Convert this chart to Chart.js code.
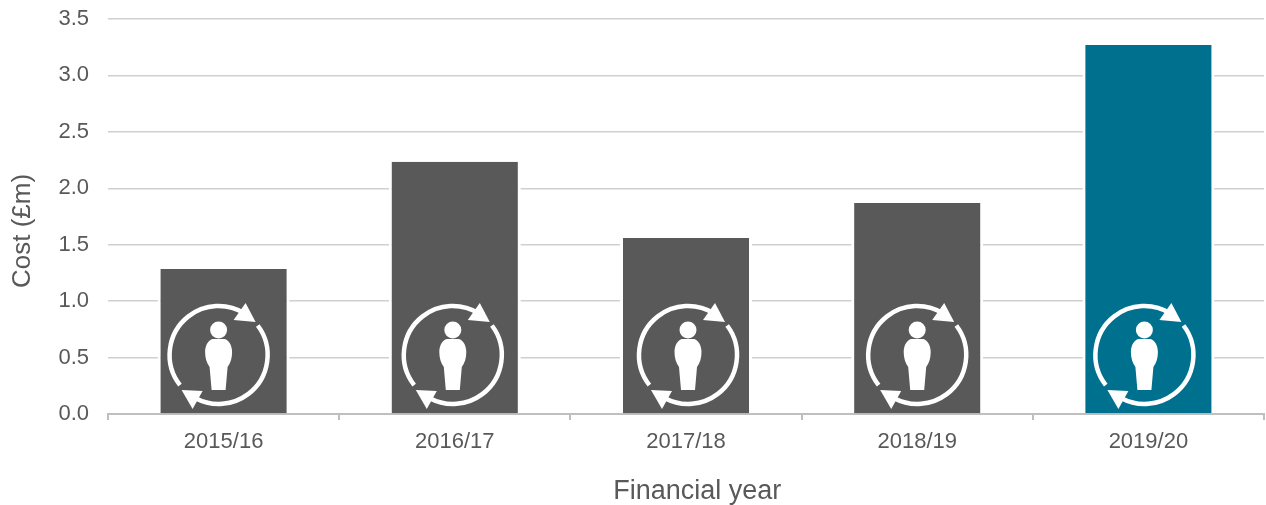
<!DOCTYPE html>
<html>
<head>
<meta charset="utf-8">
<title>Cost by financial year</title>
<script src="https://cdn.jsdelivr.net/npm/chart.js@4"></script>
<style>
  html, body { margin: 0; padding: 0; background: #fff; }
  #wrap { width: 1266px; height: 505px; }
</style>
</head>
<body>
<div id="wrap"><canvas id="cost-chart"></canvas></div>
<script>
const YEARS = ["2015/16", "2016/17", "2017/18", "2018/19", "2019/20"];
const COST = [1.285, 2.235, 1.56, 1.87, 3.27];
const BAR_COLORS = ["#595959", "#595959", "#595959", "#595959", "#00708f"];
// the badges don't sit quite centred on their bars
const ICON_SHIFT = [-5, -2, 2, 0, -4];

const TEXT = "#595959";
const FONT = "'Liberation Sans', Arial, sans-serif";

function drawPersonIcon(ctx, x, y) {
  ctx.save();
  ctx.translate(x, y);
  ctx.strokeStyle = "#fff";
  ctx.fillStyle = "#fff";
  ctx.lineWidth = 4.5;

  // the two arrows going round
  const deg = Math.PI / 180;
  ctx.beginPath();
  ctx.arc(0, 0, 49, 142 * deg, 302 * deg);
  ctx.stroke();
  ctx.beginPath();
  ctx.arc(0, 0, 49, -37 * deg, 118 * deg);
  ctx.stroke();

  ctx.beginPath();
  ctx.moveTo(27, -52);
  ctx.lineTo(37, -33);
  ctx.lineTo(15, -35);
  ctx.closePath();
  ctx.fill();
  ctx.beginPath();
  ctx.moveTo(-37, 35);
  ctx.lineTo(-16, 36);
  ctx.lineTo(-26, 54);
  ctx.closePath();
  ctx.fill();

  // person
  ctx.beginPath();
  ctx.arc(0, -25, 8.5, 0, Math.PI * 2);
  ctx.fill();
  ctx.beginPath();
  ctx.moveTo(-6, -16);
  ctx.bezierCurveTo(-10, -15, -13.5, -10, -13.5, -3);
  ctx.bezierCurveTo(-13.5, 3, -12, 8, -9, 12);
  ctx.lineTo(-7, 35);
  ctx.lineTo(7, 35);
  ctx.lineTo(9, 12);
  ctx.bezierCurveTo(12, 8, 13.5, 3, 13.5, -3);
  ctx.bezierCurveTo(13.5, -10, 10, -15, 6, -16);
  ctx.closePath();
  ctx.fill();
  ctx.restore();
}

const personIcons = {
  id: "personIcons",
  afterDatasetsDraw(chart) {
    const base = chart.scales.y.getPixelForValue(0);
    chart.getDatasetMeta(0).data.forEach((bar, i) => {
      drawPersonIcon(chart.ctx, bar.x + ICON_SHIFT[i], base - 59);
    });
  },
};

new Chart(document.getElementById("cost-chart"), {
  type: "bar",
  data: {
    labels: YEARS,
    datasets: [{
      data: COST,
      backgroundColor: BAR_COLORS,
      // white sides leave a small gap in the gridlines next to each bar
      borderColor: "#fff",
      borderWidth: { left: 3, right: 3, top: 0, bottom: 0 },
      categoryPercentage: 1,
      barPercentage: 0.571,
    }],
  },
  options: {
    responsive: true,
    maintainAspectRatio: false,
    animation: false,
    layout: { padding: { top: 19, right: 2 } },
    plugins: { legend: { display: false }, tooltip: { enabled: false } },
    scales: {
      x: {
        afterFit: (scale) => { scale.height = 91; },
        grid: {
          drawOnChartArea: false,
          color: "#bfbfbf",
          lineWidth: 2,
          tickLength: 6,
        },
        border: { color: "#bfbfbf", width: 2 },
        ticks: {
          color: TEXT,
          padding: 9,
          maxRotation: 0,
          font: { family: FONT, size: 22 },
        },
        title: {
          display: true,
          // leading spaces push the title a little right of centre
          text: "   Financial year",
          color: TEXT,
          padding: { top: 0, bottom: -3 },
          font: { family: FONT, size: 27 },
        },
      },
      y: {
        min: 0,
        max: 3.5,
        afterFit: (scale) => {
          scale.width = 108;
          // tick padding otherwise gets added above the top label too
          scale.paddingTop = 0;
          scale.paddingBottom = 0;
        },
        grid: { color: "#d0d0d0", lineWidth: 1.5, drawTicks: false },
        border: { display: false },
        ticks: {
          stepSize: 0.5,
          color: TEXT,
          padding: 19,
          callback: (v) => v.toFixed(1),
          font: { family: FONT, size: 22 },
        },
        title: {
          display: true,
          text: "Cost (£m)    ",
          color: TEXT,
          padding: { top: 7, bottom: 0 },
          font: { family: FONT, size: 26 },
        },
      },
    },
  },
  plugins: [personIcons],
});
</script>
</body>
</html>
